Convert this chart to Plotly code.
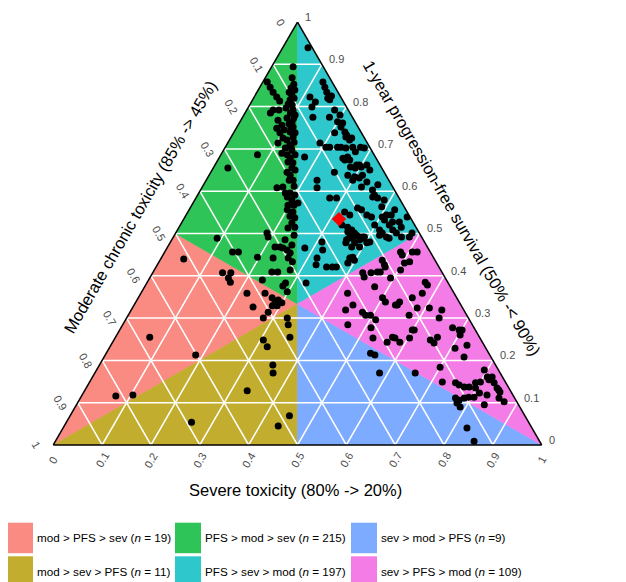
import math
import plotly.graph_objects as go

# ---------------- data ----------------
region_names = ["mod > PFS > sev", "mod > sev > PFS", "PFS > mod > sev",
                "PFS > sev > mod", "sev > mod > PFS", "sev > PFS > mod"]
region_counts = ["19", "11", "215", "197", "=9", "109"]
region_colors = ["#F98B83", "#C2AD2E", "#2EC458", "#2EC7CB", "#7DABFF", "#F47CE6"]

# region corners as (PFS, mod, sev)
region_vertices = [
    [(0, 1, 0), (0.5, 0.5, 0), (1/3, 1/3, 1/3)],
    [(0, 1, 0), (1/3, 1/3, 1/3), (0, 0.5, 0.5)],
    [(1, 0, 0), (0.5, 0.5, 0), (1/3, 1/3, 1/3)],
    [(1, 0, 0), (1/3, 1/3, 1/3), (0.5, 0, 0.5)],
    [(0, 0, 1), (1/3, 1/3, 1/3), (0, 0.5, 0.5)],
    [(0, 0, 1), (0.5, 0, 0.5), (1/3, 1/3, 1/3)],
]

tick_values = [0, 0.1, 0.2, 0.3, 0.4, 0.5, 0.6, 0.7, 0.8, 0.9, 1]
tick_labels = ["0", "0.1", "0.2", "0.3", "0.4", "0.5", "0.6", "0.7", "0.8", "0.9", "1"]
grid_values = [0.1, 0.2, 0.3, 0.4, 0.5, 0.6, 0.7, 0.8, 0.9]

# scenarios: 1-year PFS and severe toxicity (moderate = 1 - both)
pfs = [
    0.894, 0.844, 0.827, 0.816, 0.804, 0.792, 0.785, 0.773, 0.764, 0.752, 0.740, 0.728, 0.721,
    0.709, 0.702, 0.697, 0.686, 0.678, 0.667, 0.655, 0.638, 0.626, 0.610, 0.608, 0.596, 0.596,
    0.586, 0.579, 0.567, 0.551, 0.541, 0.525, 0.515, 0.868, 0.853, 0.834, 0.716, 0.749, 0.773,
    0.839, 0.806, 0.780, 0.759, 0.738, 0.704, 0.686, 0.669, 0.650, 0.645, 0.612, 0.626, 0.591,
    0.567, 0.556, 0.537, 0.513, 0.496, 0.473, 0.485, 0.792, 0.745, 0.797, 0.820,
    0.858, 0.846, 0.834, 0.823, 0.813, 0.792, 0.785, 0.768, 0.756, 0.749, 0.738, 0.726, 0.714,
    0.690, 0.686, 0.655,
    0.489, 0.501, 0.492, 0.456, 0.456, 0.444, 0.442, 0.468, 0.468, 0.466, 0.461, 0.454, 0.442,
    0.433, 0.409, 0.409, 0.414, 0.390, 0.383, 0.376, 0.362,
    0.440, 0.407, 0.407, 0.395, 0.385, 0.359, 0.359, 0.326, 0.314, 0.300, 0.348, 0.338, 0.343,
    0.336, 0.329, 0.329, 0.255, 0.213, 0.116, 0.118,
    0.300, 0.284, 0.255, 0.248, 0.232, 0.189, 0.170, 0.128, 0.069, 0.045, 0.054,
    0.939, 0.811, 0.799, 0.823, 0.775, 0.846, 0.834, 0.820, 0.816, 0.825, 0.775, 0.858,
    0.764, 0.752, 0.740, 0.728, 0.738, 0.721, 0.704, 0.704, 0.704, 0.702, 0.704, 0.714, 0.704,
    0.704, 0.702, 0.761, 0.733, 0.726,
    0.792, 0.780, 0.693, 0.650, 0.615, 0.579, 0.556, 0.520,
    0.681, 0.681, 0.674, 0.657, 0.655, 0.662, 0.634, 0.645, 0.678, 0.674, 0.662, 0.657, 0.662,
    0.626, 0.638, 0.622, 0.626, 0.608, 0.638, 0.631, 0.610, 0.603, 0.586, 0.584, 0.591,
    0.584, 0.584, 0.572,
    0.563, 0.544, 0.539, 0.544, 0.532, 0.527, 0.520, 0.515, 0.527, 0.539, 0.560, 0.556, 0.544,
    0.539, 0.544, 0.551,
    0.520, 0.515, 0.508, 0.501, 0.492, 0.496, 0.492, 0.492, 0.508, 0.501, 0.492, 0.489, 0.508,
    0.501, 0.492, 0.492, 0.504, 0.485, 0.489, 0.485, 0.478, 0.468, 0.468, 0.492, 0.478, 0.480,
    0.461, 0.442, 0.421, 0.421, 0.442, 0.437, 0.421, 0.426, 0.444, 0.430, 0.478, 0.489, 0.480,
    0.496, 0.466, 0.383, 0.501,
    0.456, 0.449, 0.456, 0.456, 0.433, 0.430, 0.414, 0.437, 0.426, 0.421, 0.407, 0.397, 0.407,
    0.409, 0.409, 0.395, 0.374, 0.385, 0.378, 0.359, 0.348, 0.338, 0.331, 0.331, 0.348, 0.338,
    0.359, 0.331, 0.319, 0.314, 0.307, 0.307, 0.296, 0.284, 0.277, 0.324, 0.319, 0.307, 0.300,
    0.272, 0.272, 0.255, 0.253, 0.243, 0.243, 0.253, 0.248, 0.255, 0.241, 0.277, 0.272, 0.272,
    0.260, 0.236, 0.229, 0.208, 0.253, 0.213, 0.217, 0.170, 0.149, 0.184, 0.324,
    0.147, 0.142, 0.137, 0.137, 0.147, 0.149, 0.177, 0.161, 0.154, 0.161, 0.147, 0.135, 0.130,
    0.125, 0.102, 0.111, 0.135, 0.123, 0.113, 0.113, 0.111, 0.106, 0.111, 0.099, 0.090, 0.095,
    0.118,
    0.170, 0.040, 0.009,
]
sev = [
    0.044, 0.065, 0.075, 0.077, 0.087, 0.095, 0.093, 0.092, 0.107, 0.115, 0.115, 0.127, 0.118,
    0.130, 0.124, 0.140, 0.136, 0.146, 0.157, 0.161, 0.166, 0.178, 0.165, 0.154, 0.177, 0.187,
    0.186, 0.199, 0.197, 0.215, 0.214, 0.226, 0.237, 0.055, 0.066, 0.066, 0.135, 0.112, 0.106,
    0.075, 0.078, 0.105, 0.103, 0.126, 0.135, 0.152, 0.146, 0.170, 0.156, 0.187, 0.170, 0.199,
    0.209, 0.201, 0.226, 0.224, 0.245, 0.252, 0.232, 0.066, 0.100, 0.078, 0.083,
    0.009, 0.021, 0.033, 0.046, 0.057, 0.054, 0.052, 0.076, 0.090, 0.083, 0.095, 0.107, 0.103,
    0.123, 0.075, 0.030,
    0.091, 0.187, 0.194, 0.139, 0.151, 0.196, 0.229, 0.220, 0.230, 0.237, 0.248, 0.258, 0.260,
    0.273, 0.243, 0.255, 0.278, 0.233, 0.284, 0.282, 0.298,
    0.047, 0.143, 0.160, 0.161, 0.170, 0.217, 0.254, 0.246, 0.283, 0.280, 0.274, 0.285, 0.289,
    0.300, 0.284, 0.294, 0.070, 0.185, 0.070, 0.104,
    0.329, 0.339, 0.357, 0.306, 0.322, 0.355, 0.365, 0.333, 0.449, 0.438, 0.256,
    0.052, 0.131, 0.130, 0.114, 0.144, 0.133, 0.143, 0.152, 0.158, 0.157, 0.178, 0.123,
    0.200, 0.213, 0.227, 0.235, 0.207, 0.246, 0.261, 0.277, 0.237, 0.248, 0.206, 0.189, 0.214,
    0.230, 0.286, 0.212, 0.234, 0.248,
    0.180, 0.197, 0.272, 0.323, 0.357, 0.388, 0.421, 0.398,
    0.174, 0.262, 0.260, 0.280, 0.291, 0.296, 0.300, 0.253, 0.254, 0.270, 0.290, 0.302, 0.311,
    0.300, 0.314, 0.331, 0.227, 0.236, 0.284, 0.311, 0.326, 0.352, 0.361, 0.372, 0.362,
    0.274, 0.288, 0.215,
    0.391, 0.410, 0.404, 0.420, 0.412, 0.431, 0.428, 0.455, 0.445, 0.455, 0.343, 0.353, 0.370,
    0.382, 0.335, 0.321,
    0.331, 0.345, 0.357, 0.366, 0.361, 0.373, 0.381, 0.387, 0.414, 0.423, 0.436, 0.443, 0.441,
    0.452, 0.467, 0.483, 0.351, 0.358, 0.368, 0.385, 0.378, 0.377, 0.393, 0.391, 0.403, 0.310,
    0.321, 0.319, 0.349, 0.369, 0.386, 0.398, 0.361, 0.325, 0.391, 0.388, 0.360, 0.389, 0.408,
    0.420, 0.282, 0.326, 0.484,
    0.483, 0.490, 0.507, 0.517, 0.513, 0.504, 0.504, 0.455, 0.465, 0.469, 0.430, 0.438, 0.447,
    0.459, 0.465, 0.493, 0.471, 0.569, 0.577, 0.576, 0.561, 0.540, 0.535, 0.539, 0.500, 0.511,
    0.423, 0.448, 0.439, 0.476, 0.486, 0.496, 0.512, 0.461, 0.512, 0.608, 0.636, 0.575, 0.640,
    0.599, 0.603, 0.567, 0.573, 0.562, 0.588, 0.603, 0.648, 0.659, 0.659, 0.679, 0.695, 0.701,
    0.703, 0.729, 0.708, 0.737, 0.528, 0.552, 0.541, 0.656, 0.722, 0.700, 0.583,
    0.750, 0.760, 0.773, 0.783, 0.791, 0.800, 0.794, 0.808, 0.815, 0.818, 0.829, 0.841, 0.847,
    0.852, 0.872, 0.857, 0.797, 0.811, 0.805, 0.794, 0.786, 0.778, 0.768, 0.777, 0.788, 0.835,
    0.829,
    0.583, 0.827, 0.857,
]
reference_pfs = [0.534]
reference_sev = [0.318]

axis_titles = {
    "sev": "Severe toxicity (80% -> 20%)",
    "mod": "Moderate chronic toxicity (85% -> 45%)",
    "pfs": "1-year progression-free survival (50% -< 90%)",
}

# ---------------- layout geometry ----------------
PAGE_OFF = 8            # default page margin around the plot div
W, H = 618, 574         # figure fills the 626x582 window after the page margin
DOM_X = [0.0712, 0.8657]
DOM_Y = [0.2387, 0.9756]
SQ3 = math.sqrt(3)
wmax = (DOM_X[1] - DOM_X[0]) * W
hmax = (DOM_Y[1] - DOM_Y[0]) * H
if wmax > hmax * 2 / SQ3:
    TH = hmax
    TW = TH * 2 / SQ3
else:
    TW = wmax
    TH = TW * SQ3 / 2
LEFT = W * (DOM_X[0] + DOM_X[1]) / 2 - TW / 2
BOTTOM = H * (DOM_Y[0] + DOM_Y[1]) / 2 - TH / 2


def to_paper(p, s):
    """ternary (PFS, sev) -> paper coordinates of the ternary subplot"""
    xpx = LEFT + TW * (s + p / 2)
    ypx = BOTTOM + TH * p
    return xpx / W, ypx / H


def page_to_paper(x, y):
    """window pixel position (from top-left) -> paper coordinates"""
    return (x - PAGE_OFF) / W, 1 - (y - PAGE_OFF) / H


FONT = "Liberation Sans, Arial, sans-serif"
fig = go.Figure()

# coloured ordering regions
for name, col, verts in zip(region_names, region_colors, region_vertices):
    closed = verts + [verts[0]]
    fig.add_trace(go.Scatterternary(
        a=[v[0] for v in closed], b=[v[1] for v in closed], c=[v[2] for v in closed],
        mode="lines", fill="toself", fillcolor=col,
        line=dict(color=col, width=0.6), hoverinfo="skip", showlegend=False, name=name))

# white triangular grid
ga, gb, gc = [], [], []
for v in grid_values:
    ga += [v, v, None]; gb += [1 - v, 0, None]; gc += [0, 1 - v, None]
    ga += [1 - v, 0, None]; gb += [v, v, None]; gc += [0, 1 - v, None]
    ga += [1 - v, 0, None]; gb += [0, 1 - v, None]; gc += [v, v, None]
fig.add_trace(go.Scatterternary(a=ga, b=gb, c=gc, mode="lines",
                                line=dict(color="white", width=1.5),
                                connectgaps=False, hoverinfo="skip", showlegend=False))

# scenario points
fig.add_trace(go.Scatterternary(a=pfs, c=sev, mode="markers",
                                marker=dict(color="black", size=7, line=dict(width=0)),
                                showlegend=False, name="scenarios"))
# reference scenario
fig.add_trace(go.Scatterternary(a=reference_pfs, c=reference_sev, mode="markers",
                                marker=dict(color="#FF0000", size=11, symbol="diamond",
                                            line=dict(width=0)),
                                showlegend=False, name="reference"))

hidden_axis = dict(showgrid=False, showticklabels=False, ticks="", title=dict(text=""),
                   showline=True, linecolor="black", linewidth=1.5, min=0)

annotations = []
tick_font = dict(family=FONT, size=11, color="#4D4D4D")
for v, lab in zip(tick_values, tick_labels):
    x, y = to_paper(v, 1 - v)
    annotations.append(dict(x=x, y=y, xref="paper", yref="paper", text=lab, showarrow=False,
                            xanchor="left", yanchor="middle", xshift=5, yshift=5,
                            font=tick_font))
    x, y = to_paper(1 - v, 0)
    annotations.append(dict(x=x, y=y, xref="paper", yref="paper", text=lab, showarrow=False,
                            xanchor="center", yanchor="middle", xshift=-17, yshift=0,
                            textangle=60, font=tick_font))
    x, y = to_paper(0, v)
    annotations.append(dict(x=x, y=y, xref="paper", yref="paper", text=lab, showarrow=False,
                            xanchor="center", yanchor="middle", xshift=0, yshift=-15,
                            textangle=-60, font=tick_font))

title_font = dict(family=FONT, size=16.5, color="black")
for key, (px, py), ang in [("sev", (295, 490), 0), ("mod", (140, 207), -60),
                           ("pfs", (452, 208), 60)]:
    x, y = page_to_paper(px, py)
    annotations.append(dict(x=x, y=y, xref="paper", yref="paper", text=axis_titles[key],
                            showarrow=False, font=title_font, textangle=ang,
                            xanchor="center", yanchor="middle"))

# legend (two rows x three columns of colour keys)
shapes = []
col_x = [7, 175, 351]
row_top = [522.7, 556.3]
key_w, key_h = 26, 30.5
for i, (name, cnt, col) in enumerate(zip(region_names, region_counts, region_colors)):
    ci, ri = i // 2, i % 2
    x0p, y0p = page_to_paper(col_x[ci], row_top[ri])
    x1p, y1p = page_to_paper(col_x[ci] + key_w, row_top[ri] + key_h)
    shapes.append(dict(type="rect", xref="paper", yref="paper",
                       x0=x0p, x1=x1p, y0=y1p, y1=y0p,
                       fillcolor=col, line=dict(width=0), layer="above"))
    if cnt.startswith("="):
        label = f"{name} (<i>n</i> {cnt})"
    else:
        label = f"{name} (<i>n</i> = {cnt})"
    tx, ty = page_to_paper(col_x[ci] + key_w + 4, row_top[ri] + key_h / 2)
    annotations.append(dict(x=tx, y=ty, xref="paper", yref="paper", text=label,
                            showarrow=False, xanchor="left", yanchor="middle", xshift=-2,
                            font=dict(family=FONT, size=11.7, color="black")))

fig.update_layout(
    width=W, height=H, autosize=False,
    margin=dict(l=0, r=0, t=0, b=0),
    paper_bgcolor="white", plot_bgcolor="white",
    showlegend=False, hovermode="closest",
    ternary=dict(domain=dict(x=DOM_X, y=DOM_Y), sum=1, bgcolor="white",
                 aaxis=hidden_axis, baxis=hidden_axis, caxis=hidden_axis),
    annotations=annotations, shapes=shapes,
)

fig.write_html("out.html")
